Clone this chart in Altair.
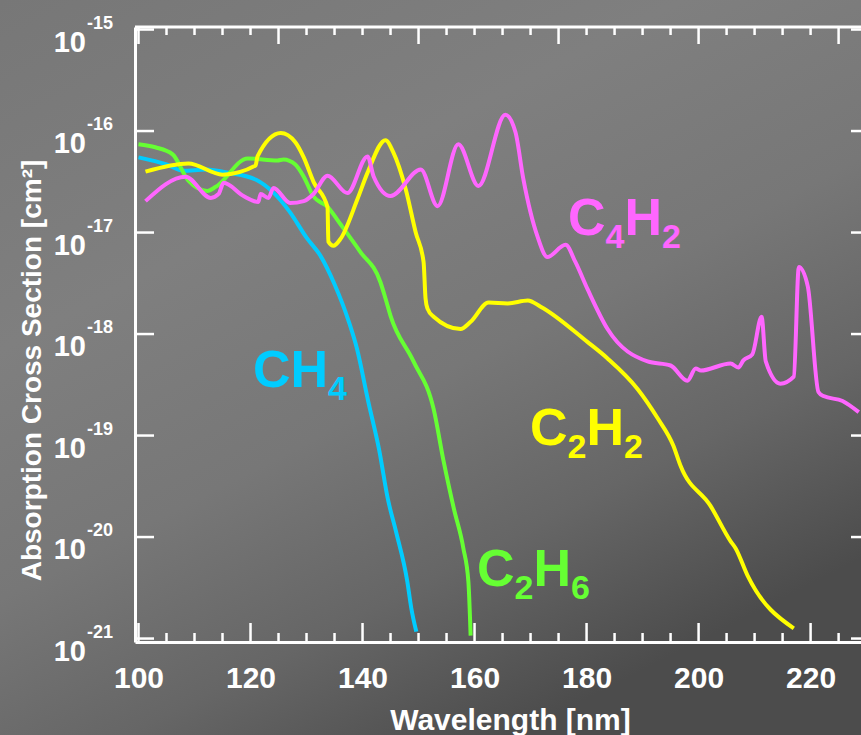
import altair as alt
import pandas as pd

# ---------------- data ----------------
ch4_wl = [100, 105, 108, 112, 116, 121, 124, 127, 130, 132.5, 135, 137.5, 139, 141,
          143, 144.5, 146, 148, 148.7, 149.6]
ch4_xs = [5.5e-17, 4.68e-17, 4.07e-17, 4.17e-17, 3.89e-17, 3.31e-17, 2.5e-17, 1.6e-17,
          8.9e-18, 5.89e-18, 3.09e-18, 1.35e-18, 7.2e-19, 2.19e-19, 7.08e-20, 2.4e-20,
          1.12e-20, 3.63e-21, 2.0e-21, 1.17e-21]

c2h6_wl = [100, 103, 106.1, 108.9, 112.3, 113.8, 119.5, 124.8, 125.9, 128.0, 129.5, 131.2,
           133.8, 136.1, 139.6, 143.2, 144.1, 145.0, 149.1, 152.7, 154.5, 156.3, 158.0,
           158.9, 159.3]
c2h6_xs = [7.41e-17, 6.92e-17, 5.89e-17, 3.24e-17, 2.57e-17, 2.82e-17, 5.37e-17, 5.13e-17,
           5.25e-17, 4.68e-17, 3.55e-17, 2.29e-17, 1.78e-17, 1.2e-17, 6.46e-18, 3.24e-18,
           2.24e-18, 1.51e-18, 5.37e-19, 1.82e-19, 5.5e-20, 1.91e-20, 7.76e-21, 3.63e-21,
           1.07e-21]

c2h2_wl = [101.25, 108.9, 115.0, 120.9, 121.25, 125.4, 128.0, 129.5, 131.25, 133.75, 133.9,
           134.8, 136.1, 139.1, 140.9, 144.1, 145.5, 147.7, 149.5, 150.9, 151.25, 151.6,
           152.7, 157.5, 159.3, 162.5, 165.9, 169.5, 171.8, 180.2, 183.75, 189.1, 192.7,
           195.5, 196.8, 202.1, 205.7, 206.6, 208.75, 217.0]
c2h2_xs = [3.98e-17, 4.79e-17, 3.72e-17, 4.57e-17, 5.62e-17, 9.55e-17, 7.76e-17, 5.5e-17,
           3.16e-17, 1.78e-17, 8.13e-18, 7.41e-18, 8.71e-18, 2.14e-17, 3.89e-17, 8.13e-17,
           6.17e-17, 2.69e-17, 1.0e-17, 5.13e-18, 2.24e-18, 1.78e-18, 1.48e-18, 1.12e-18,
           1.32e-18, 2.04e-18, 2.0e-18, 2.14e-18, 1.86e-18, 8.32e-19, 5.75e-19, 2.88e-19,
           1.48e-19, 7.94e-20, 5.01e-20, 2.04e-20, 9.12e-21, 7.76e-21, 4.17e-21, 1.26e-21]

c4h2_wl = [101.25, 108.4, 112.9, 114.3, 115.2, 118.75, 121.4, 121.8, 123.2, 124.1, 127.1,
           129.5, 131.25, 133.75, 137.3, 140.9, 142.0, 145.0, 150.4, 153.4, 157.1, 160.7,
           165.5, 167.3, 168.7, 171.25, 173.0, 176.25, 178.0, 180.2, 183.75, 190.9, 195.0,
           198.0, 199.5, 200.4, 205.7, 207.1, 208.0, 209.6, 211.25, 212.0, 214.6, 217.0,
           217.9, 219.5, 221.4, 222.3, 225.7, 228.6]
c4h2_xs = [2.04e-17, 3.55e-17, 2.19e-17, 2.4e-17, 3.09e-17, 2.29e-17, 2.0e-17, 2.4e-17,
           2.19e-17, 2.75e-17, 1.95e-17, 2.04e-17, 2.4e-17, 3.63e-17, 2.45e-17, 5.62e-17,
           3.55e-17, 2.29e-17, 4.17e-17, 1.82e-17, 7.41e-17, 2.88e-17, 1.45e-16, 9.77e-17,
           3.4e-17, 9.12e-18, 5.75e-18, 7.59e-18, 5.13e-18, 2.75e-18, 1.12e-18, 5.37e-19,
           4.9e-19, 3.47e-19, 4.57e-19, 4.37e-19, 5.13e-19, 4.68e-19, 5.5e-19, 6.31e-19,
           1.48e-18, 5.37e-19, 3.24e-19, 3.8e-19, 4.57e-18, 2.95e-18, 2.69e-19, 2.45e-19,
           2.19e-19, 1.7e-19]

species = ["CH4", "C2H6", "C2H2", "C4H2"]
colors = ["#00CCFF", "#66FF33", "#FFFF00", "#FF66FF"]

# label anchors (wavelength, cross section) for the molecule names
label_wl = [120.45, 160.45, 169.9, 176.7]
label_xs = [3.0e-19, 3.29e-21, 8.05e-20, 9.44e-18]

# axis tick values / labels
x_tick_values = list(range(100, 230, 5))
x_label_values = [100, 120, 140, 160, 180, 200, 220]
y_decades = [1e-15, 1e-16, 1e-17, 1e-18, 1e-19, 1e-20, 1e-21]
y_exponents = ["-15", "-16", "-17", "-18", "-19", "-20", "-21"]

# ---------------- chart ----------------
FONT = "Liberation Sans"
W, H = 726, 615

xscale = alt.Scale(domain=[99.375, 229.0], nice=False, zero=False)
yscale = alt.Scale(type="log", domain=[10 ** -21.034, 10 ** -14.975], nice=False)

xaxis = alt.Axis(
    values=x_label_values, labelFontSize=30, labelFont=FONT, labelFontWeight="bold",
    labelColor="white", ticks=False, tickSize=0, grid=False, domain=True,
    domainColor="white", domainWidth=3, labelPadding=45, labelBaseline="alphabetic",
    labelFlush=False, labelOverlap=False, zindex=2,
    title="Wavelength [nm]", titleFontSize=30, titleFont=FONT, titleFontWeight="bold",
    titleColor="white", titleX=375, titleY=87, titleBaseline="alphabetic",
    titleAlign="center")
yaxis = alt.Axis(
    labels=False, ticks=False, tickSize=0, grid=False, domain=True,
    domainColor="white", domainWidth=3, zindex=2,
    title="Absorption Cross Section [cm²]", titleFontSize=28, titleFont=FONT,
    titleFontWeight="bold", titleColor="white", titleX=-95, titleY=343,
    titleAngle=270, titleBaseline="alphabetic", titleAlign="center")


def X(field):
    return alt.X(field, scale=xscale, axis=xaxis)


def Y(field):
    return alt.Y(field, scale=yscale, axis=yaxis)


one = pd.DataFrame({"a": [0]})

bg = alt.Chart(one).mark_rect(
    fill=alt.LinearGradient(
        gradient="linear", x1=0, y1=0, x2=0.6, y2=1,
        stops=[alt.GradientStop(offset=0, color="#777777"),
               alt.GradientStop(offset=0.35, color="#7f7f7f"),
               alt.GradientStop(offset=0.6, color="#777777"),
               alt.GradientStop(offset=0.8, color="#666666"),
               alt.GradientStop(offset=1.0, color="#4c4c4c")]),
).encode(x=alt.value(-135), x2=alt.value(W), y=alt.value(-27), y2=alt.value(735 - 27))

frames = []
for name, wl, xs in [("CH4", ch4_wl, ch4_xs), ("C2H6", c2h6_wl, c2h6_xs),
                     ("C2H2", c2h2_wl, c2h2_xs), ("C4H2", c4h2_wl, c4h2_xs)]:
    frames.append(pd.DataFrame({"wl": wl, "xs": xs, "species": name}))
lines_df = pd.concat(frames, ignore_index=True)

lines = alt.Chart(lines_df).mark_line(strokeWidth=4, interpolate="monotone").encode(
    x=X("wl:Q"),
    y=Y("xs:Q"),
    color=alt.Color("species:N", scale=alt.Scale(domain=species, range=colors), legend=None),
    detail="species:N",
)

top_frame = alt.Chart(one).mark_rule(color="white", strokeWidth=3).encode(
    x=alt.value(0), x2=alt.value(W), y=alt.value(0))


def xticks(vals, y0, y1):
    return alt.Chart(pd.DataFrame({"t": vals})).mark_rule(color="white", strokeWidth=2.5).encode(
        x=X("t:Q"), y=alt.value(y0), y2=alt.value(y1))


bottom_major = [v for v in x_tick_values if v % 20 == 0]
bottom_minor = [v for v in x_tick_values if v % 20 != 0]
top_major = [v for v in x_tick_values if v % 25 == 0]
top_minor = [v for v in x_tick_values if v % 25 != 0]

tick_layers = [
    xticks(bottom_major, H, H - 19),
    xticks(bottom_minor, H, H - 9),
    xticks(top_major, 0, 17),
    xticks(top_minor, 0, 8),
]

ydf = pd.DataFrame({"v": y_decades, "e": y_exponents})
for x0, x1 in [(0, 19), (W - 10, W)]:
    tick_layers.append(
        alt.Chart(ydf).mark_rule(color="white", strokeWidth=2.5).encode(
            y=Y("v:Q"), x=alt.value(x0), x2=alt.value(x1)))

ylab_base = alt.Chart(ydf).mark_text(
    align="right", baseline="alphabetic", dy=22, fontSize=29, font=FONT,
    fontWeight="bold", color="white").encode(
    y=Y("v:Q"), x=alt.value(-49), text=alt.value("10"))
ylab_exp = alt.Chart(ydf).mark_text(
    align="left", baseline="alphabetic", dy=-1, fontSize=18, font=FONT,
    fontWeight="bold", color="white").encode(
    y=Y("v:Q"), x=alt.value(-48), text="e:N")

# molecule labels with subscripts
MAIN, SUB = 52, 34
label_layers = []
for name, col, wl, xs in zip(species, colors, label_wl, label_xs):
    dx = 0.0
    d = pd.DataFrame({"wl": [wl], "xs": [xs]})
    for ch in name:
        is_sub = ch.isdigit()
        size = SUB if is_sub else MAIN
        label_layers.append(
            alt.Chart(d).mark_text(
                text=ch, align="left", baseline="alphabetic", fontSize=size, font=FONT,
                fontWeight="bold", color=col, dx=dx, dy=13 if is_sub else 0).encode(
                x=X("wl:Q"), y=Y("xs:Q")))
        dx += (0.556 * SUB) if is_sub else (0.722 * MAIN)

chart = alt.layer(
    bg, lines, top_frame, *tick_layers, ylab_base, ylab_exp, *label_layers
).properties(
    width=W, height=H,
    padding={"left": 135, "top": 27, "right": 0, "bottom": 93},
    autosize=alt.AutoSizeParams(type="none"),
    background="#6e6e6e",
).configure_view(strokeWidth=0)

chart.save("out.html", embed_options={"renderer": "svg", "actions": False})
